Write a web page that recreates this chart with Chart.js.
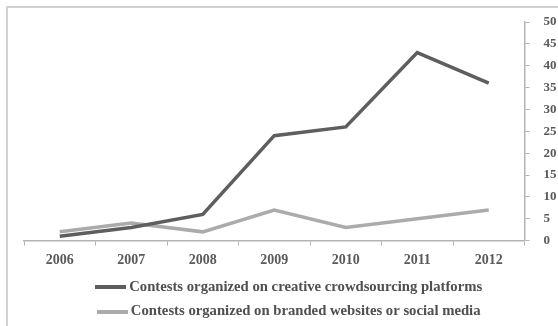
<!DOCTYPE html>
<html>
<head>
<meta charset="utf-8">
<script src="https://cdn.jsdelivr.net/npm/chart.js@4"></script>
<style>
  html, body { margin: 0; padding: 0; background: #fff; }
  #wrap { position: relative; width: 558px; height: 326px; overflow: hidden; }
  #frame { position: absolute; left: 6px; top: 6px; width: 600px; height: 400px;
           border-top: 2px solid #d2d2d2; border-left: 2px solid #d2d2d2; }
  #Chart1 { position: absolute; left: 0; top: 0; }
</style>
</head>
<body>
<div id="wrap">
  <div id="frame"></div>
  <canvas id="Chart1" width="558" height="326"></canvas>
</div>
<script>
const years = ["2006", "2007", "2008", "2009", "2010", "2011", "2012"];
const platformContests = [1, 3, 6, 24, 26, 43, 36];
const brandedContests = [2, 4, 2, 7, 3, 5, 7];
const seriesNames = [
  "Contests organized on creative crowdsourcing platforms",
  "Contests organized on branded websites or social media"
];
const lineColors = ['#5e5e5e', '#ababab'];

// small line swatch used as the legend point style
function swatch(color) {
  const c = document.createElement('canvas');
  c.width = 31;
  c.height = 4;
  const g = c.getContext('2d');
  g.fillStyle = color;
  g.fillRect(0, 0, 31, 4);
  return c;
}

document.addEventListener("DOMContentLoaded", function () {
  const serif = "'Liberation Serif', 'DejaVu Serif', serif";
  const data1 = {
    labels: years,
    datasets: [{
      label: seriesNames[0],
      data: platformContests,
      borderColor: lineColors[0],
      backgroundColor: lineColors[0],
      borderWidth: 3.5,
      pointRadius: 0,
      tension: 0
    }, {
      label: seriesNames[1],
      data: brandedContests,
      borderColor: lineColors[1],
      backgroundColor: lineColors[1],
      borderWidth: 3.5,
      pointRadius: 0,
      tension: 0
    }]
  };
  const config1 = {
    type: 'line',
    data: data1,
    options: {
      responsive: false,
      animation: false,
      layout: { padding: { left: 24, right: 0, top: 22, bottom: -3 } },
      scales: {
        x: {
          offset: true,
          grid: { drawOnChartArea: false, drawTicks: true, tickLength: 5, color: '#b4b4b4', offset: true },
          border: { color: '#b4b4b4', width: 1.5 },
          ticks: { color: '#5a5a5a', padding: 6, font: { family: serif, size: 14, weight: 'bold' } },
          afterFit: function (scale) { scale.height = 29; }
        },
        y: {
          position: 'right',
          min: 0,
          max: 50,
          grid: { drawOnChartArea: false, drawTicks: true, tickLength: 5, color: '#b4b4b4' },
          border: { color: '#b4b4b4', width: 1.5 },
          ticks: { stepSize: 5, color: '#5a5a5a', padding: 14, font: { family: serif, size: 13, weight: 'bold' } },
          afterFit: function (scale) { scale.width = 33.5; }
        }
      },
      plugins: {
        legend: {
          position: 'bottom',
          labels: {
            usePointStyle: true,
            pointStyleWidth: 22,
            boxHeight: 14,
            padding: 10,
            color: '#4f4f4f',
            font: { family: serif, size: 14.7, weight: 'bold' },
            generateLabels: function (chart) {
              return chart.data.datasets.map(function (ds, i) {
                return {
                  text: ds.label,
                  strokeStyle: ds.borderColor,
                  fillStyle: ds.borderColor,
                  lineWidth: 0,
                  pointStyle: swatch(ds.borderColor),
                  fontColor: '#4f4f4f',
                  datasetIndex: i,
                  hidden: false
                };
              });
            }
          }
        },
        tooltip: { enabled: false }
      }
    }
  };
  var myChart1 = new Chart(document.getElementById('Chart1'), config1);
});
</script>
</body>
</html>
